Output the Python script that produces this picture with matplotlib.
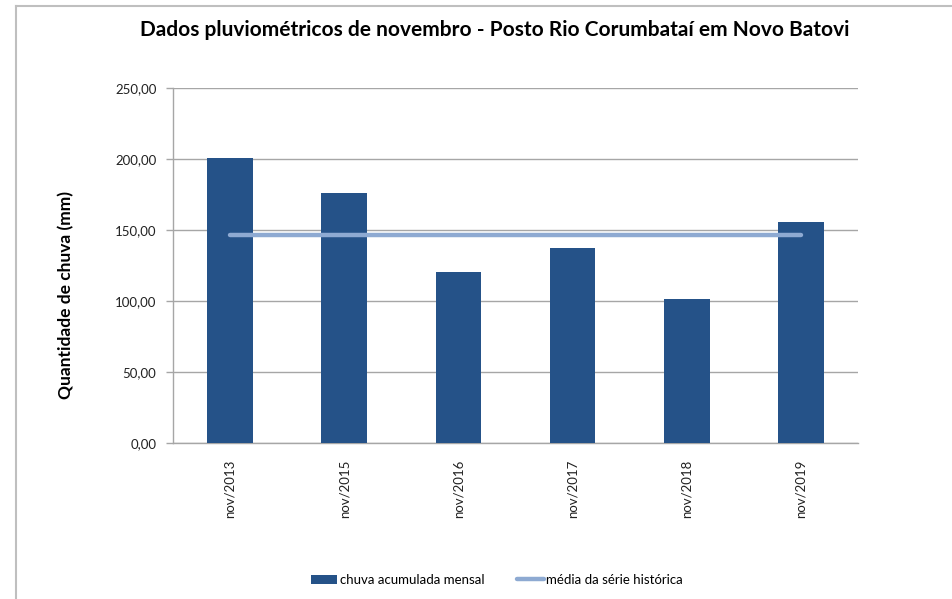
import matplotlib
matplotlib.use('Agg')
import matplotlib.pyplot as plt
from matplotlib.lines import Line2D
from matplotlib.patches import Patch
import numpy as np

plt.rcParams['font.family'] = ['Lato', 'DejaVu Sans']

# data
categories = ['nov/2013', 'nov/2015', 'nov/2016', 'nov/2017', 'nov/2018', 'nov/2019']
chuva = [200.7, 176.0, 120.4, 137.3, 101.4, 155.6]
media = [146.6] * len(categories)
yticks = [0, 50, 100, 150, 200, 250]

bar_color = '#255288'
line_color = '#8eaad2'
grid_color = '#a6a6a6'

W, H = 952, 599
fig = plt.figure(figsize=(W / 100, H / 100), dpi=100)
fig.patch.set_facecolor('white')

# outer chart frame (only left and top edges visible in the picture)
fig.add_artist(Line2D([16 / W, 16 / W], [0, 1 - 6 / H], transform=fig.transFigure,
                      color='#bfbfbf', lw=1.5))
fig.add_artist(Line2D([16 / W, 1], [1 - 6 / H, 1 - 6 / H], transform=fig.transFigure,
                      color='#bfbfbf', lw=1.5))

ax = fig.add_axes([173 / W, 1 - 443 / H, 685 / W, 355 / H])
x = np.arange(len(categories))
ax.bar(x, chuva, width=0.4, color=bar_color, zorder=3)
ax.plot(x, media, color=line_color, lw=3.2, solid_capstyle='round', zorder=4)

ax.set_xlim(-0.5, len(categories) - 0.5)
ax.set_ylim(0, 250)
ax.set_yticks(yticks)
ax.set_yticklabels([('%.2f' % v).replace('.', ',') for v in yticks])
ax.set_xticks(x)
ax.set_xticklabels(categories, rotation=90)
ax.tick_params(axis='x', length=0, pad=12, labelsize=9.5, labelcolor='#222222')
ax.tick_params(axis='y', length=5, width=1, color=grid_color, pad=7,
               labelsize=9.5, labelcolor='#222222')
ax.yaxis.grid(True, color=grid_color, lw=1)
ax.set_axisbelow(True)
for s in ['top', 'right']:
    ax.spines[s].set_visible(False)
for s in ['left', 'bottom']:
    ax.spines[s].set_color(grid_color)
    ax.spines[s].set_linewidth(1)

ax.set_ylabel('Quantidade de chuva (mm)', fontsize=12.5, fontweight='bold', va='center')
# label sits a bit lower than the axis middle in the reference
ax.yaxis.set_label_coords((66 - 173) / 685, (443 - 295) / 355)

fig.text(495 / W, 1 - 30 / H,
         'Dados pluviométricos de novembro - Posto Rio Corumbataí em Novo Batovi',
         ha='center', va='center', fontsize=15, fontweight='bold')

handles = [Patch(facecolor=bar_color, edgecolor='none'),
           Line2D([0], [0], color=line_color, lw=3.2, solid_capstyle='round')]
fig.legend(handles, ['chuva acumulada mensal', 'média da série histórica'],
           loc='center', bbox_to_anchor=(497 / W, 1 - 580 / H), ncol=2,
           frameon=False, fontsize=9.5, handlelength=2.0, handletextpad=0.2,
           columnspacing=2.5)

fig.savefig('out.png', dpi=100)
